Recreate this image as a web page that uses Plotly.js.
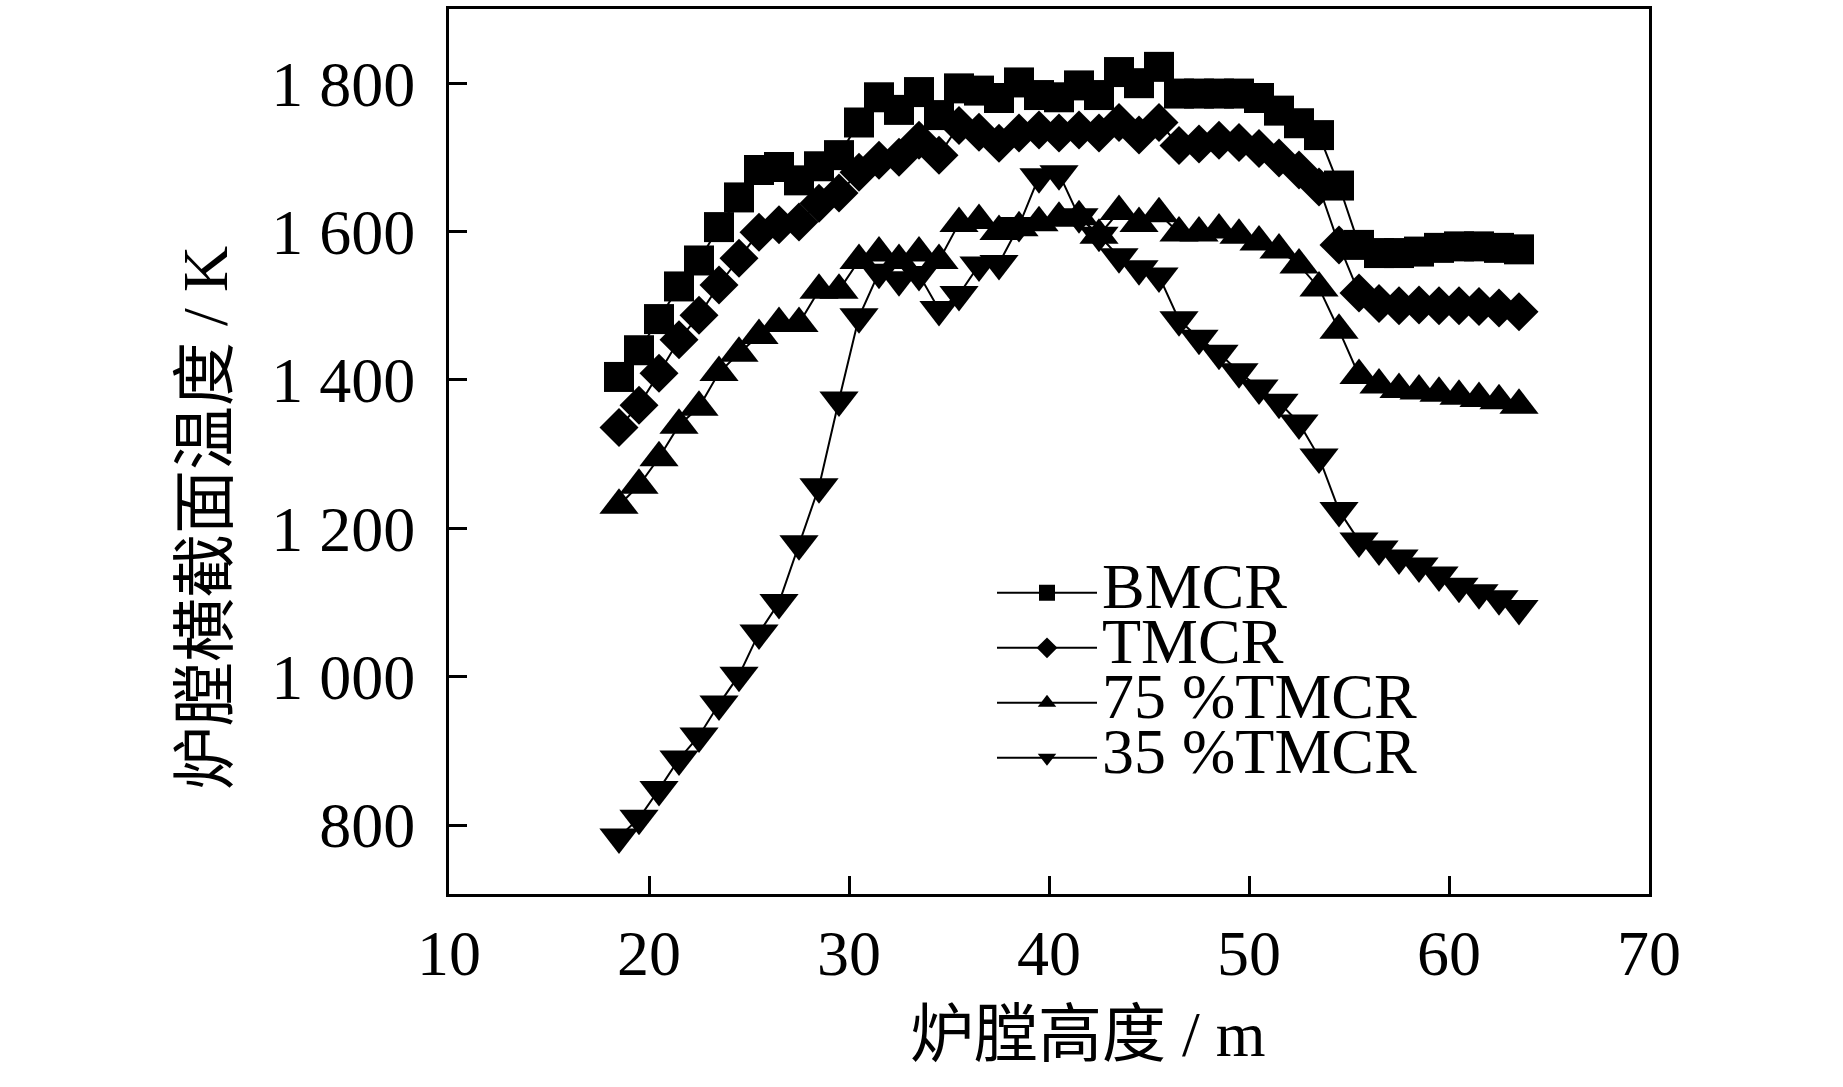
<!DOCTYPE html>
<html>
<head>
<meta charset="utf-8">
<script src="https://cdn.plot.ly/plotly-3.0.1.min.js"></script>
<style>
  html, body { margin: 0; padding: 0; background: #fff; }
</style>
</head>
<body>
<div id="chart" style="width:1843px;height:1087px;"></div>
<script>
// furnace height, m
var heights = [18.5, 19.5, 20.5, 21.5, 22.5, 23.5, 24.5, 25.5, 26.5, 27.5,
    28.5, 29.5, 30.5, 31.5, 32.5, 33.5, 34.5, 35.5, 36.5, 37.5,
    38.5, 39.5, 40.5, 41.5, 42.5, 43.5, 44.5, 45.5, 46.5, 47.5,
    48.5, 49.5, 50.5, 51.5, 52.5, 53.5, 54.5, 55.5, 56.5, 57.5,
    58.5, 59.5, 60.5, 61.5, 62.5, 63.5];

// cross-section temperature, K
var bmcr = [1404, 1440, 1482, 1526, 1561, 1606, 1646, 1683, 1687, 1669,
    1688, 1703, 1747, 1781, 1764, 1788, 1757, 1793, 1790, 1780,
    1801, 1784, 1781, 1797, 1784, 1815, 1800, 1822, 1786, 1786,
    1786, 1786, 1780, 1763, 1746, 1730, 1662, 1582, 1571, 1571,
    1573, 1578, 1580, 1580, 1578, 1576];

var tmcr = [1336, 1366, 1409, 1454, 1487, 1528, 1564, 1599, 1609, 1613,
    1638, 1652, 1680, 1696, 1700, 1723, 1703, 1743, 1734, 1719,
    1733, 1737, 1733, 1737, 1733, 1747, 1730, 1747, 1716, 1718,
    1723, 1720, 1712, 1699, 1683, 1660, 1582, 1517, 1503, 1500,
    1501, 1500, 1500, 1499, 1497, 1492];

var tmcr75 = [1231, 1258, 1295, 1339, 1363, 1410, 1436, 1460, 1476, 1476,
    1521, 1521, 1561, 1571, 1561, 1571, 1561, 1611, 1615, 1600,
    1605, 1612, 1618, 1620, 1595, 1627, 1611, 1624, 1598, 1598,
    1602, 1595, 1586, 1575, 1555, 1524, 1467, 1406, 1393, 1387,
    1385, 1382, 1378, 1375, 1372, 1366];

var tmcr35 = [784, 809, 848, 889, 920, 963, 1002, 1059, 1100, 1179,
    1256, 1373, 1485, 1545, 1535, 1542, 1495, 1515, 1555, 1557,
    1608, 1674, 1678, 1620, 1595, 1566, 1550, 1540, 1481, 1456,
    1436, 1411, 1389, 1370, 1342, 1296, 1224, 1183, 1172, 1160,
    1149, 1137, 1122, 1113, 1105, 1092];

var names = ['BMCR', 'TMCR', '75 %TMCR', '35 %TMCR'];
var yTickVals = [800, 1000, 1200, 1400, 1600, 1800];
var yTickText = ['800', '1 000', '1 200', '1 400', '1 600', '1 800'];
var xTickVals = [10, 20, 30, 40, 50, 60, 70];

var FONT = 'Liberation Serif, Times New Roman, Noto Sans CJK SC, serif';

function series(y, name, symbol, size) {
    return {
        x: heights,
        y: y,
        name: '<span style="font-size:64px">' + name + '</span>',
        type: 'scatter',
        mode: 'lines+markers',
        line: {color: '#000', width: 2},
        marker: {symbol: symbol, size: size, color: '#000', line: {width: 0}}
    };
}

var traces = [
    series(bmcr, names[0], 'square', 30),
    series(tmcr, names[1], 'diamond', 30),
    series(tmcr75, names[2], 'triangle-up', 34),
    series(tmcr35, names[3], 'triangle-down', 34)
];

var axisCommon = {
    showgrid: false,
    zeroline: false,
    showline: true,
    linecolor: '#000',
    linewidth: 3,
    mirror: true,
    ticks: 'inside',
    ticklen: 18,
    tickwidth: 3,
    tickcolor: '#000',
    tickfont: {family: FONT, size: 64, color: '#000'}
};

var layout = {
    width: 1843,
    height: 1087,
    margin: {l: 449, r: 194, t: 9, b: 193},
    paper_bgcolor: '#fff',
    plot_bgcolor: '#fff',
    font: {family: FONT, color: '#000'},
    xaxis: Object.assign({}, axisCommon, {
        range: [10, 70],
        tickvals: xTickVals,
        ticklabelstandoff: 1
    }),
    yaxis: Object.assign({}, axisCommon, {
        range: [707, 1900],
        tickvals: yTickVals,
        ticktext: yTickText,
        ticklabelstandoff: 18
    }),
    showlegend: true,
    legend: {
        x: 0.4525,
        y: 0.377,
        xanchor: 'left',
        yanchor: 'top',
        bgcolor: 'rgba(0,0,0,0)',
        borderwidth: 0,
        font: {family: FONT, size: 40, color: '#000'},
        itemwidth: 100
    },
    annotations: [
        {
            text: '炉膛高度 / m',
            xref: 'paper', yref: 'paper',
            x: 0.5325, y: -0.159,
            xanchor: 'center', yanchor: 'middle',
            showarrow: false,
            font: {family: FONT, size: 64, color: '#000'}
        },
        {
            text: '炉膛横截面温度 / K',
            xref: 'paper', yref: 'paper',
            x: -0.2025, y: 0.425,
            xanchor: 'center', yanchor: 'middle',
            textangle: -90,
            showarrow: false,
            font: {family: FONT, size: 64, color: '#000'}
        }
    ]
};

Plotly.newPlot('chart', traces, layout, {displayModeBar: false, staticPlot: true});
</script>
</body>
</html>
